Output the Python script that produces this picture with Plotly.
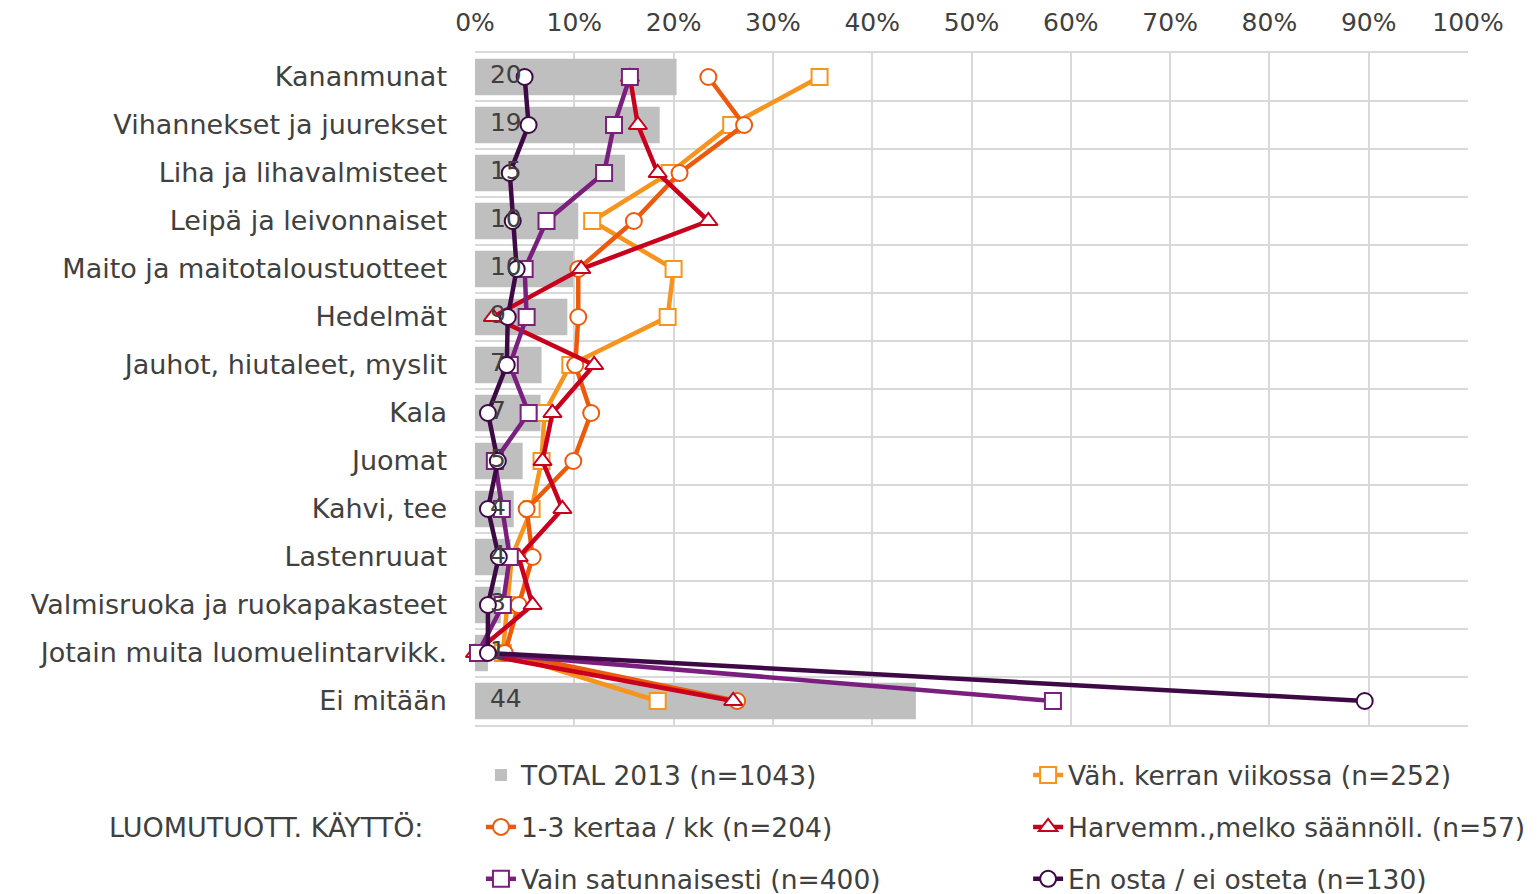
import plotly.graph_objects as go

categories = ["Kananmunat", "Vihannekset ja juurekset", "Liha ja lihavalmisteet",
              "Leipä ja leivonnaiset", "Maito ja maitotaloustuotteet", "Hedelmät",
              "Jauhot, hiutaleet, myslit", "Kala", "Juomat", "Kahvi, tee", "Lastenruuat",
              "Valmisruoka ja ruokapakasteet", "Jotain muita luomuelintarvikk.", "Ei mitään"]

total_2013 = [20.3, 18.6, 15.1, 10.4, 9.9, 9.3, 6.7, 6.6, 4.8, 3.9, 3.6, 2.6, 1.3, 44.4]
vah_viikossa = [34.7, 25.8, 19.6, 11.8, 20.0, 19.4, 9.6, 7.0, 6.7, 5.7, 3.7, 3.2, 2.8, 18.4]
kertaa_kk = [23.5, 27.1, 20.6, 16.0, 10.4, 10.4, 10.1, 11.7, 9.9, 5.2, 5.8, 4.4, 3.0, 26.4]
harvemm = [15.6, 16.4, 18.4, 23.5, 10.7, 1.8, 12.0, 7.8, 6.8, 8.8, 4.4, 5.8, 0.0, 26.0]
satunnaisesti = [15.6, 14.0, 13.0, 7.2, 5.0, 5.2, 3.5, 5.4, 2.0, 2.7, 3.5, 2.8, 0.3, 58.2]
en_osta = [5.0, 5.4, 3.5, 3.8, 4.2, 3.3, 3.2, 1.3, 2.3, 1.3, 2.4, 1.3, 1.3, 89.6]

x_ticks = [0, 10, 20, 30, 40, 50, 60, 70, 80, 90, 100]

# (name, values, colour, symbol, legend)
series = [
    ("Väh. kerran viikossa (n=252)", vah_viikossa, "#F7941D", "square", "legend2"),
    ("1-3 kertaa / kk (n=204)", kertaa_kk, "#EE5A0C", "circle", "legend"),
    ("Harvemm.,melko säännöll. (n=57)", harvemm, "#C8001E", "triangle-up", "legend2"),
    ("Vain satunnaisesti (n=400)", satunnaisesti, "#7B1F7E", "square", "legend"),
    ("En osta / ei osteta (n=130)", en_osta, "#3D0A45", "circle", "legend2"),
]

FONT = "DejaVu Sans"
TXT = "#404040"
GRID = "#D9D9D9"

ypos = list(range(len(categories)))
fig = go.Figure()

fig.add_trace(go.Bar(
    x=[v / 100 for v in total_2013], y=ypos, orientation="h",
    marker=dict(color="#BFBFBF", line=dict(width=0)), width=0.76,
    name="TOTAL 2013 (n=1043)", hoverinfo="skip", legend="legend", legendgroup="g0",
    legendrank=1))

for i, (name, vals, color, sym, leg) in enumerate(series):
    fig.add_trace(go.Scatter(
        x=[v / 100 for v in vals], y=ypos, mode="lines+markers", name=name,
        line=dict(color=color, width=4.5), cliponaxis=False,
        legend=leg, legendgroup=f"g{i + 1}", legendrank=i + 2,
        marker=dict(symbol=sym, size=16, color="white", line=dict(color=color, width=2))))

# bar value labels, drawn on top
fig.add_trace(go.Scatter(
    x=[0.015] * len(categories), y=ypos, mode="text",
    text=[str(round(v)) for v in total_2013], textposition="middle right",
    textfont=dict(family=FONT, size=25, color=TXT), showlegend=False, hoverinfo="skip"))

# invisible trace hosting the secondary y axis (category boundary gridlines)
fig.add_trace(go.Scatter(x=[None], y=[None], yaxis="y2", showlegend=False, hoverinfo="skip"))

n = len(categories)
legend_common = dict(orientation="v", yanchor="top", xanchor="left",
                     font=dict(size=26.5, color=TXT), tracegroupgap=14.5,
                     bgcolor="rgba(0,0,0,0)", itemwidth=30)
fig.update_layout(
    width=1529, height=886,
    margin=dict(l=467, r=69, t=45, b=169, autoexpand=False),
    paper_bgcolor="white", plot_bgcolor="white",
    font=dict(family=FONT, size=27, color=TXT),
    xaxis=dict(range=[0, 1], side="top", tickvals=[t / 100 for t in x_ticks],
               ticktext=[f"{t}%" for t in x_ticks], showgrid=True, gridcolor=GRID,
               gridwidth=2, zeroline=False, showline=True, linecolor=GRID, linewidth=2,
               mirror=True, tickfont=dict(size=25, color=TXT), ticks="",
               ticklabelstandoff=10, fixedrange=True),
    yaxis=dict(range=[n - 0.5, -0.5], tickvals=ypos, ticktext=categories,
               showgrid=False, zeroline=False, ticks="", ticklabelstandoff=27,
               tickfont=dict(size=27, color=TXT), showline=False),
    yaxis2=dict(overlaying="y", range=[n - 0.5, -0.5],
                tickvals=[i - 0.5 for i in range(n + 1)], showticklabels=False,
                showgrid=True, gridcolor=GRID, gridwidth=2, zeroline=False, ticks=""),
    legend=dict(x=0.006, y=-0.039, **legend_common),
    legend2=dict(x=0.557, y=-0.039, **legend_common),
    annotations=[dict(text="LUOMUTUOTT. KÄYTTÖ:", xref="paper", yref="paper",
                      x=-0.0504, y=-0.1518, xanchor="right", yanchor="middle",
                      showarrow=False, font=dict(size=27, color=TXT))],
)

fig.write_html("out.html")
